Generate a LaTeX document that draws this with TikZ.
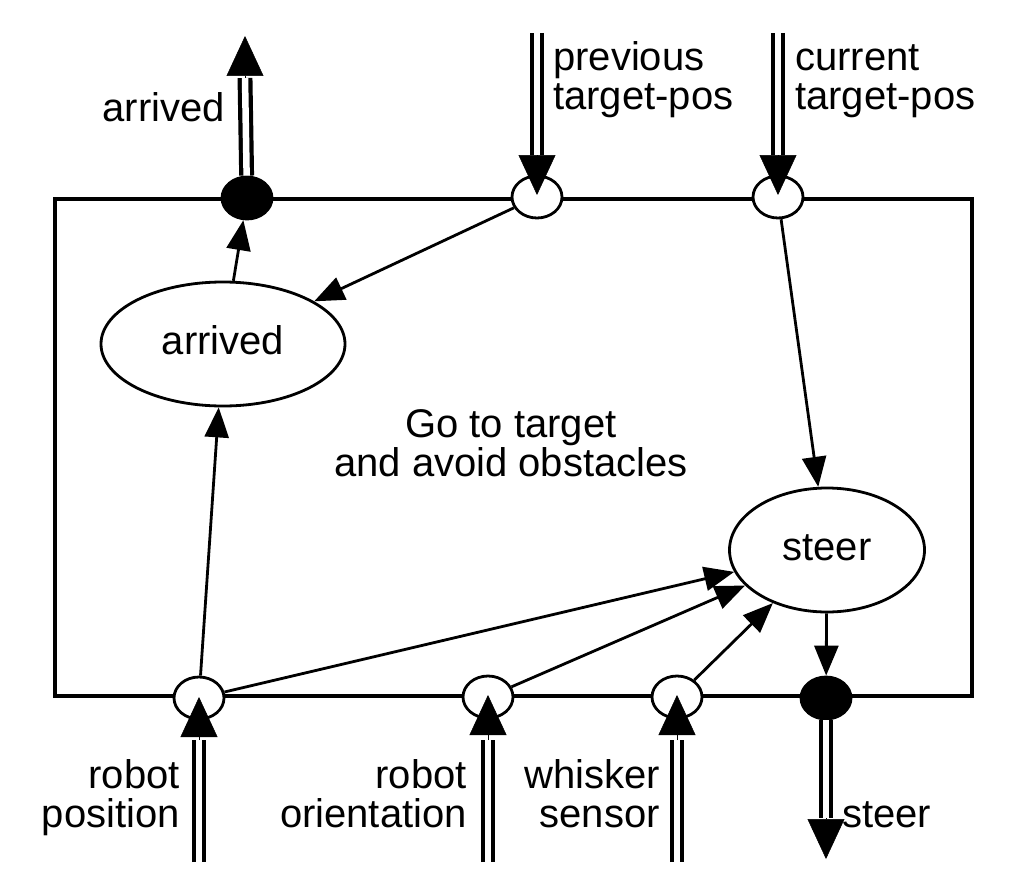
\documentclass[tikz,border=0pt]{standalone}
\usepackage{fontspec}
\setmainfont{Liberation Sans}
\usetikzlibrary{arrows.meta,shapes.geometric}
\begin{document}
\begin{tikzpicture}[x=1pt,y=-1pt,
 port/.style={ellipse,draw,line width=2.8pt,fill=white,minimum width=50pt,minimum height=42pt,inner sep=0pt},
 fport/.style={port,fill=black},
 proc/.style={ellipse,draw,line width=2.8pt,fill=white,inner sep=0pt,font=\fontsize{40}{39}\selectfont,text height=20pt,text depth=0pt},
 flow/.style={line width=2.8pt,-{Triangle[length=30pt,width=24pt]}},
 shaft/.style={double,double distance=6.5pt,line width=4.2pt},
 head/.style={line width=0.5pt,-{Triangle[length=40pt,width=37pt]}},
 lbl/.style={inner sep=0pt,font=\fontsize{40}{39}\selectfont},
]
\useasboundingbox[fill=white] (0,0) rectangle (1014,888);

% module box
\node[draw,line width=3.2pt,minimum width=917pt,minimum height=497pt,inner sep=0pt] (box) at (513.5,447.5) {};
\node[lbl,align=center,anchor=base] (title) at (511,476) {Go to target\\and avoid obstacles};

% processes
\node[proc,minimum width=244pt,minimum height=124pt] (eArr) at (223,344) {arrived};
\node[proc,minimum width=195pt,minimum height=124pt] (eSteer) at (827,550) {steer};

% ports
\node[fport] (pArrOut) at (247,198) {};
\node[port]  (pPrev) at (537,197) {};
\node[port]  (pCur) at (778,197) {};
\node[port]  (pPos) at (199,698) {};
\node[port]  (pOri) at (488,697) {};
\node[port]  (pWhi) at (677,697) {};
\node[fport] (pSteerOut) at (826,698) {};

% internal flows
\draw[flow] (eArr) -- (pArrOut);
\draw[flow] (pPrev) -- (eArr);
\draw[flow] (pCur) -- (eSteer);
\draw[flow] (pPos) -- (eArr);
\draw[flow] (pPos) -- (eSteer);
\draw[flow] (pOri) -- (eSteer);
\draw[flow] (pWhi) -- (eSteer);
\draw[flow] (eSteer) -- (pSteerOut);

% external coordinates
\coordinate (arrBase) at (245,78);
\coordinate (arrTip) at (245,36);
\coordinate (prevStart) at (537,33);
\coordinate (prevBase) at (537,155);
\coordinate (curStart) at (778,33);
\coordinate (curBase) at (778,155);
\coordinate (posStart) at (199,862);
\coordinate (posBase) at (199,740);
\coordinate (oriStart) at (488,862);
\coordinate (oriBase) at (488,740);
\coordinate (whiStart) at (677,862);
\coordinate (whiBase) at (677,740);
\coordinate (steerBase) at (826,818);
\coordinate (steerTip) at (826,859);

% double shafts
\draw[shaft] (pArrOut) -- (arrBase);
\draw[shaft] (prevStart) -- (prevBase);
\draw[shaft] (curStart) -- (curBase);
\draw[shaft] (posStart) -- (posBase);
\draw[shaft] (oriStart) -- (oriBase);
\draw[shaft] (whiStart) -- (whiBase);
\draw[shaft] (pSteerOut) -- (steerBase);

% heads
\draw[head] (arrBase) -- (arrTip);
\draw[head,shorten >=2pt] (prevBase) -- (pPrev.center);
\draw[head,shorten >=2pt] (curBase) -- (pCur.center);
\draw[head,shorten >=-1pt] (posBase) -- (pPos.center);
\draw[head,shorten >=-2pt] (oriBase) -- (pOri.center);
\draw[head,shorten >=-2pt] (whiBase) -- (pWhi.center);
\draw[head] (steerBase) -- (steerTip);

% labels
\node[lbl,anchor=base east] (lArr) at (225,122) {arrived};
\node[lbl,align=left,anchor=base west] (lPrev) at (553,110) {previous\\target-pos};
\node[lbl,align=left,anchor=base west] (lCur) at (795,110) {current\\target-pos};
\node[lbl,align=right,anchor=base east] (lPos) at (180,827) {robot\\position};
\node[lbl,align=right,anchor=base east] (lOri) at (467,827) {robot\\orientation};
\node[lbl,align=right,anchor=base east] (lWhi) at (660,827) {whisker\\sensor};
\node[lbl,anchor=base west] (lSteer) at (842,827) {steer};
\end{tikzpicture}
\end{document}
